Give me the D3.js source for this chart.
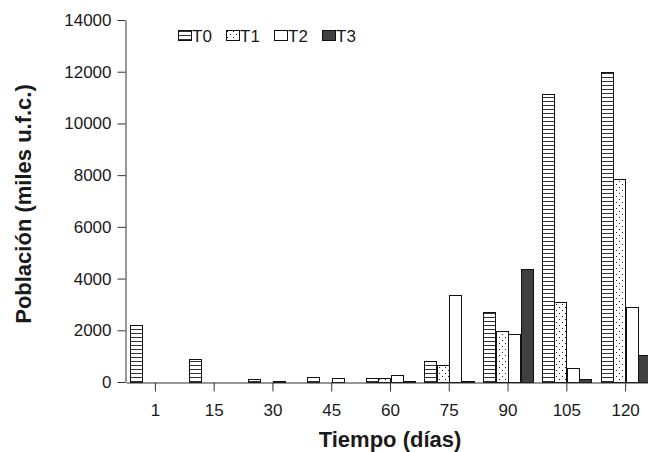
<!DOCTYPE html>
<html>
<head>
<meta charset="utf-8">
<script src="https://cdn.jsdelivr.net/npm/d3@7"></script>
<style>
    body { margin: 0; background: #fff; }
    text { font-family: "Liberation Sans", Arial, sans-serif; fill: #1a1a1a; }
</style>
</head>
<body>
<svg id="visualisation" width="648" height="452"></svg>
<script>
// data
var dias = ["1", "15", "30", "45", "60", "75", "90", "105", "120"];
var series = ["T0", "T1", "T2", "T3"];
var T0 = [2190, 900, 130, 190, 150, 810, 2700, 11120, 11980];
var T1 = [8, 8, 10, 10, 150, 670, 1960, 3080, 7870];
var T2 = [8, 8, 40, 150, 270, 3350, 1870, 530, 2890];
var T3 = [8, 8, 10, 15, 30, 30, 4380, 130, 1030];
var yTicks = [0, 2000, 4000, 6000, 8000, 10000, 12000, 14000];

var values = { T0: T0, T1: T1, T2: T2, T3: T3 };
var fills = { T0: "url(#rayas)", T1: "url(#puntos)", T2: "#fff", T3: "#404040" };

var vis = d3.select("#visualisation"),
    MARGINS = { top: 20, right: -7, bottom: 70, left: 126 },
    WIDTH = 648,
    HEIGHT = 452;

var defs = vis.append("defs");
var rayas = defs.append("pattern")
    .attr("id", "rayas")
    .attr("patternUnits", "userSpaceOnUse")
    .attr("width", 4).attr("height", 4);
rayas.append("rect").attr("width", 4).attr("height", 4).attr("fill", "#fff");
rayas.append("rect").attr("y", 1).attr("width", 4).attr("height", 1).attr("fill", "#333");

var puntos = defs.append("pattern")
    .attr("id", "puntos")
    .attr("patternUnits", "userSpaceOnUse")
    .attr("width", 6).attr("height", 6);
puntos.append("rect").attr("width", 6).attr("height", 6).attr("fill", "#fff");
puntos.append("rect").attr("x", 1).attr("y", 1).attr("width", 1).attr("height", 1).attr("fill", "#222");
puntos.append("rect").attr("x", 4).attr("y", 4).attr("width", 1).attr("height", 1).attr("fill", "#222");

var xScale = d3.scaleBand()
    .domain(dias)
    .range([MARGINS.left, WIDTH - MARGINS.right])
    .paddingInner(0.15)
    .paddingOuter(0.075);
var xSub = d3.scaleBand()
    .domain(series)
    .range([0, xScale.bandwidth()]);
var yScale = d3.scaleLinear()
    .domain([0, 14000])
    .range([HEIGHT - MARGINS.bottom, MARGINS.top]);

// bars
series.forEach(function (s) {
    vis.append("g")
        .selectAll("rect")
        .data(values[s])
        .enter()
        .append("rect")
        .attr("x", function (d, i) { return Math.round(xScale(dias[i]) + xSub(s)) + 0.5; })
        .attr("y", function (d) { return Math.round(yScale(d)) + 0.5; })
        .attr("width", Math.round(xSub.bandwidth()))
        .attr("height", function (d) { return Math.round(yScale(0)) - Math.round(yScale(d)); })
        .attr("fill", fills[s])
        .attr("stroke", "#111")
        .attr("stroke-width", 1);
});

var xAxis = d3.axisBottom(xScale).tickSize(9).tickSizeOuter(0).tickPadding(12);
var yAxis = d3.axisLeft(yScale).tickValues(yTicks).tickFormat(d3.format("d"))
    .tickSize(8).tickSizeOuter(0).tickPadding(6);

var gx = vis.append("g")
    .attr("class", "x axis")
    .attr("transform", "translate(0," + (Math.round(yScale(0)) + 0.5) + ")")
    .call(xAxis);
var gy = vis.append("g")
    .attr("class", "y axis")
    .attr("transform", "translate(" + (MARGINS.left - 0.5) + ",0)")
    .call(yAxis);

[gx, gy].forEach(function (g) {
    g.select(".domain").attr("stroke", "#333");
    g.selectAll(".tick line").attr("stroke", "#333");
    g.selectAll(".tick text")
        .attr("fill", "#1a1a1a")
        .style("font-size", "17px")
        .style("font-family", "'Liberation Sans', Arial, sans-serif");
});

// titles
vis.append("text")
    .attr("x", 390)
    .attr("y", 447)
    .attr("text-anchor", "middle")
    .style("font-size", "22px")
    .style("font-weight", "bold")
    .text("Tiempo (días)");
vis.append("text")
    .attr("transform", "translate(31,204) rotate(-90)")
    .attr("text-anchor", "middle")
    .style("font-size", "22px")
    .style("font-weight", "bold")
    .text("Población (miles u.f.c.)");

// legend
var legend = vis.append("g").attr("transform", "translate(178,30)");
series.forEach(function (s, i) {
    var item = legend.append("g").attr("transform", "translate(" + (i * 48) + ",0)");
    item.append("rect")
        .attr("x", 0.5).attr("y", 0.5)
        .attr("width", 13).attr("height", 10)
        .attr("fill", fills[s])
        .attr("stroke", "#111");
    item.append("text")
        .attr("x", 14)
        .attr("y", 11.5)
        .style("font-size", "17px")
        .text(s);
});
</script>
</body>
</html>
